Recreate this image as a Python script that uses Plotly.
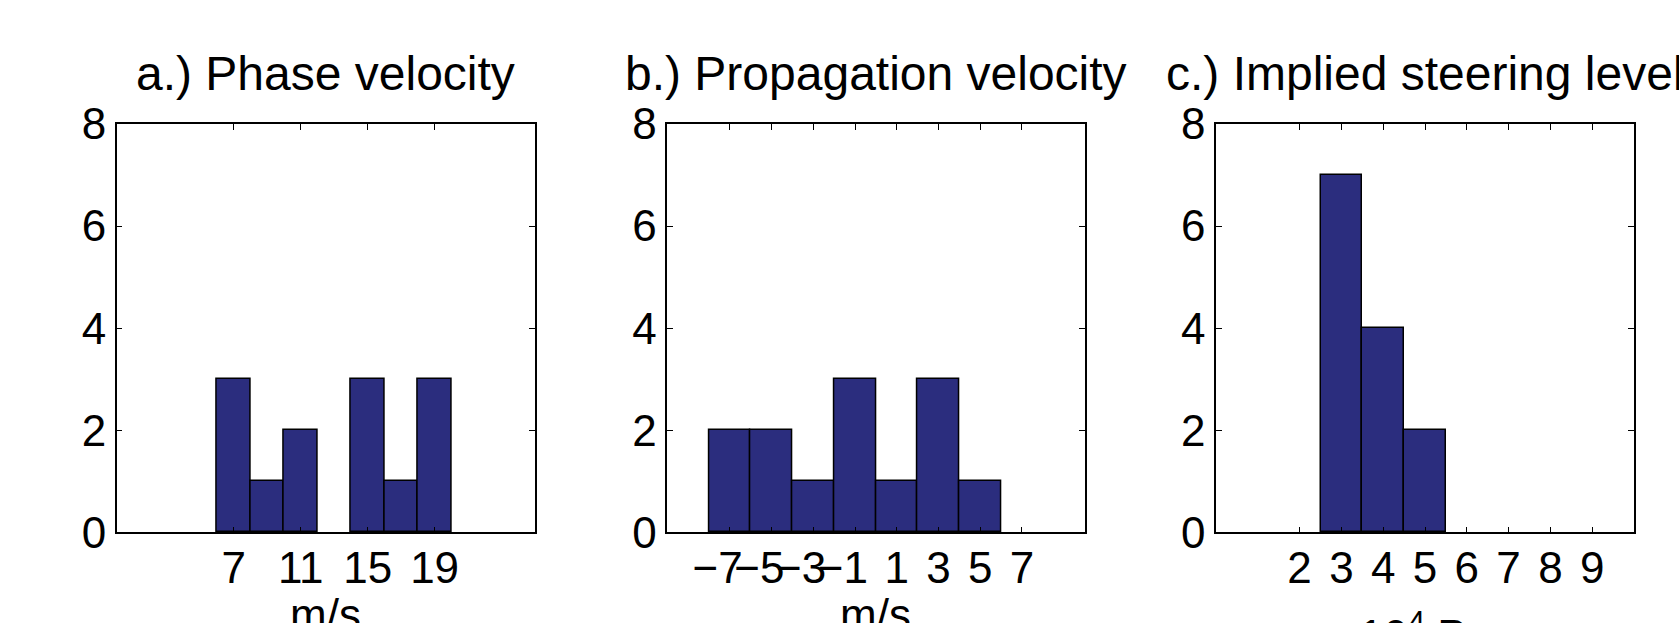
import plotly.graph_objects as go

# ---- data ----
phase_centers = [7, 9, 11, 13, 15, 17, 19]
phase_counts = [3, 1, 2, 0, 3, 1, 3]
phase_ticks = [7, 11, 15, 19]

prop_centers = [-7, -5, -3, -1, 1, 3, 5]
prop_counts = [2, 2, 1, 3, 1, 3, 1]
prop_ticks = [-7, -5, -3, -1, 1, 3, 5, 7]

steer_centers = [2, 3, 4, 5, 6, 7, 8, 9]
steer_counts = [0, 7, 4, 2, 0, 0, 0, 0]
steer_ticks = [2, 3, 4, 5, 6, 7, 8, 9]

titles = ["a.) Phase velocity", "b.) Propagation velocity", "c.) Implied steering level"]
xlabels = ["m/s", "m/s", "10<sup>4</sup> Pa"]
y_ticks = [0, 2, 4, 6, 8]

W, H = 1679, 623
BAR = "#2b2d7e"
FONT = "Liberation Sans, Arial, Helvetica, sans-serif"
NB = "\u00a0"


def tick_label(v):
    # MATLAB-style: the digits sit on the tick, the minus sign hangs to the left
    return ("\u2212" + str(-v) + NB * 2) if v < 0 else str(v)


fig = go.Figure()

panels = [
    (phase_centers, phase_counts, 2, phase_ticks, [0, 25]),
    (prop_centers, prop_counts, 2, prop_ticks, [-10, 10]),
    (steer_centers, steer_counts, 1, steer_ticks, [0, 10]),
]
xdom_px = [(116.7, 535.0), (667.3, 1084.5), (1216.0, 1634.0)]
ytop_px, ybot_px = 124.0, 532.3
ydom = [1 - ybot_px / H, 1 - ytop_px / H]

for i, (cx, cy, w, ticks, rng) in enumerate(panels):
    n = "" if i == 0 else str(i + 1)
    fig.add_trace(go.Bar(
        x=cx, y=cy, width=w,
        marker=dict(color=BAR,
                    line=dict(color="black", width=[1.5 if v > 0 else 0 for v in cy])),
        xaxis="x" + n, yaxis="y" + n, showlegend=False,
    ))
    xd = [xdom_px[i][0] / W, xdom_px[i][1] / W]
    common = dict(
        showline=True, linecolor="black", linewidth=1.5, mirror="ticks",
        ticks="inside", ticklen=6, tickwidth=1.2, tickcolor="black",
        showgrid=False, zeroline=False, automargin=False,
        tickfont=dict(family=FONT, size=44, color="black"),
    )
    fig.update_layout(**{
        "xaxis" + n: dict(domain=xd, range=rng, tickmode="array", tickvals=ticks,
                          ticktext=[tick_label(v) for v in ticks],
                          tickangle=0, anchor="y" + n, ticklabelstandoff=-4, **common),
        "yaxis" + n: dict(domain=ydom, range=[0, 8], tickmode="array", tickvals=y_ticks,
                          anchor="x" + n, ticklabelstandoff=0, **common),
    })
    xc = (xd[0] + xd[1]) / 2
    fig.add_annotation(x=xc, y=1 - 73 / H, xref="paper", yref="paper",
                       text=titles[i], showarrow=False, xanchor="center", yanchor="middle",
                       font=dict(family=FONT, size=48, color="black"))
    yl = 1 - 614 / H if i < 2 else 1 - 632 / H
    fig.add_annotation(x=xc, y=yl, xref="paper", yref="paper",
                       text=xlabels[i], showarrow=False, xanchor="center", yanchor="middle",
                       font=dict(family=FONT, size=44, color="black"))

fig.update_layout(
    width=W, height=H, margin=dict(l=0, r=0, t=0, b=0, autoexpand=False),
    paper_bgcolor="white", plot_bgcolor="white", bargap=0,
)

fig.write_html("out.html")
